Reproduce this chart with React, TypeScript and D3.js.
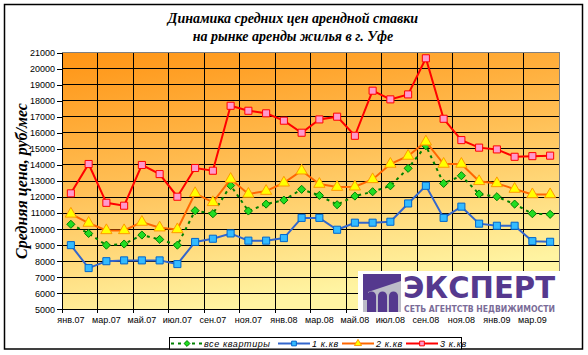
import React, { useEffect, useRef } from 'react';
import * as d3 from 'd3';

const months = ['янв', 'фев', 'мар', 'апр', 'май', 'июн', 'июл', 'авг', 'сен', 'окт', 'ноя', 'дек'];
const categories = [
  ...months.map(m => m + '.07'),
  ...months.map(m => m + '.08'),
  ...months.slice(0, 4).map(m => m + '.09'),
];

const allFlats = [10300, 9730, 9000, 9070, 9630, 9360, 9000, 11150, 10960, 12720, 11130, 11560, 11810, 12480,
  12100, 11520, 12060, 12330, 12700, 13790, 15200, 12850, 13330, 12190, 12020, 11560, 10960, 10920];
const oneRoom = [9000, 7570, 8000, 8050, 8050, 8050, 7820, 9200, 9400, 9730, 9280, 9280, 9440, 10700,
  10700, 9960, 10400, 10400, 10460, 11600, 12700, 10700, 11400, 10340, 10210, 10210, 9250, 9210];
const twoRoom = [10950, 10380, 9920, 9920, 10440, 10090, 9980, 12230, 11670, 13120, 12190, 12370, 12890, 13640,
  12810, 12620, 12640, 13100, 14060, 14560, 15450, 14060, 14060, 12980, 12850, 12500, 12160, 12160];
const threeRoom = [12230, 14060, 11640, 11460, 14000, 13430, 12020, 13810, 13640, 17690, 17380, 17220, 16760, 16010,
  16840, 17010, 15820, 18630, 18090, 18400, 20650, 16880, 15550, 15080, 14970, 14510, 14550, 14580];

const yTicks = d3.range(5000, 21001, 1000);

const App = () => {
  const svgRef = useRef<SVGSVGElement>(null);

  useEffect(() => {
    const svg = d3.select(svgRef.current);
    svg.selectAll('*').remove();

    const left = 62, right = 559, top = 52.7, bottom = 309.3;

    const x = d3.scaleBand().domain(categories).range([left, right]);
    const y = d3.scaleLinear().domain([5000, 21000]).range([bottom, top]);
    const cx = (i: number) => x(categories[i])! + x.bandwidth() / 2;

    const defs = svg.append('defs');
    const grad = defs.append('linearGradient').attr('id', 'bg')
      .attr('x1', 0).attr('y1', 0).attr('x2', 0.3).attr('y2', 1);
    grad.append('stop').attr('offset', 0).attr('stop-color', '#ff9414');
    grad.append('stop').attr('offset', 0.5).attr('stop-color', '#ffbf55');
    grad.append('stop').attr('offset', 1).attr('stop-color', '#fff4a2');

    // chart frame
    svg.append('rect').attr('x', 4.5).attr('y', 4.5).attr('width', 578).attr('height', 344.5)
      .attr('fill', 'white').attr('stroke', 'black').attr('stroke-width', 1.5);

    // title
    const title = svg.append('text').attr('x', 293).attr('text-anchor', 'middle')
      .attr('font-family', '"Liberation Serif", serif').attr('font-size', 14)
      .attr('font-weight', 'bold').attr('font-style', 'italic');
    title.append('tspan').attr('x', 293).attr('y', 23).text('Динамика средних цен арендной ставки');
    title.append('tspan').attr('x', 293).attr('y', 41).text('на рынке аренды жилья в г. Уфе');

    // plot area
    svg.append('rect').attr('x', left).attr('y', top).attr('width', right - left).attr('height', bottom - top)
      .attr('fill', 'url(#bg)');

    const grid = svg.append('g').attr('stroke', 'black').attr('stroke-width', 1).attr('shape-rendering', 'crispEdges');
    yTicks.filter(t => t > 5000 && t < 21000).forEach(t => {
      grid.append('line').attr('x1', left).attr('x2', right).attr('y1', y(t)).attr('y2', y(t));
    });
    categories.forEach((c, i) => {
      if (i > 0 && i % 2 === 0) {
        grid.append('line').attr('x1', x(c)!).attr('x2', x(c)!).attr('y1', top).attr('y2', bottom);
      }
    });
    // plot border (top/right)
    svg.append('path').attr('d', `M${left},${top}H${right}V${bottom}`).attr('fill', 'none')
      .attr('stroke', '#808080').attr('stroke-width', 1).attr('shape-rendering', 'crispEdges');

    // axes
    const yAxis = svg.append('g').attr('transform', `translate(${left},0)`)
      .call(d3.axisLeft(y).tickValues(yTicks).tickFormat(d3.format('d')).tickSize(5).tickSizeOuter(0).tickPadding(2));
    yAxis.selectAll('text').attr('font-family', '"Liberation Sans", Arial, sans-serif').attr('font-size', 9).attr('fill', 'black');
    yAxis.selectAll('line,path').attr('stroke', 'black').attr('shape-rendering', 'crispEdges');

    const xAxis = svg.append('g').attr('transform', `translate(0,${bottom})`)
      .call(d3.axisBottom(x).tickValues(categories.filter((_, i) => i % 2 === 0)).tickSize(0).tickPadding(7).tickSizeOuter(0));
    xAxis.selectAll('text').attr('font-family', '"Liberation Sans", Arial, sans-serif').attr('font-size', 9).attr('fill', 'black');
    xAxis.selectAll('path').attr('stroke', 'black').attr('shape-rendering', 'crispEdges');
    categories.forEach((c, i) => {
      if (i % 2 === 0) {
        xAxis.append('line').attr('x1', x(c)!).attr('x2', x(c)!).attr('y1', 0).attr('y2', 4)
          .attr('stroke', 'black').attr('shape-rendering', 'crispEdges');
      }
    });

    // y title
    svg.append('text').attr('transform', 'translate(27,181) rotate(-90)').attr('text-anchor', 'middle')
      .attr('font-family', '"Liberation Serif", serif').attr('font-size', 16)
      .attr('font-weight', 'bold').attr('font-style', 'italic').text('Средняя цена, руб/мес');

    const line = d3.line<number>().x((_, i) => cx(i)).y(d => y(d));

    const diamond = d3.symbol().type(d3.symbolDiamond2).size(42);
    const square = d3.symbol().type(d3.symbolSquare).size(50);
    const triangle = d3.symbol().type(d3.symbolTriangle).size(55);

    const series = [
      { data: allFlats, color: '#008000', dash: '3,4', sym: diamond, fill: '#22dd22', mstroke: '#008000' },
      { data: oneRoom, color: '#3366cc', dash: null, sym: square, fill: '#33bbff', mstroke: '#0066cc' },
      { data: twoRoom, color: '#ff6600', dash: null, sym: triangle, fill: '#ffff00', mstroke: '#ff9900' },
      { data: threeRoom, color: '#ff0000', dash: null, sym: square, fill: '#ff99cc', mstroke: '#ff0000' },
    ];

    series.forEach(s => {
      svg.append('path').datum(s.data).attr('d', line).attr('fill', 'none')
        .attr('stroke', s.color).attr('stroke-width', 2).attr('stroke-dasharray', s.dash);
      svg.append('g').selectAll('path').data(s.data).enter().append('path')
        .attr('d', s.sym)
        .attr('transform', (d, i) => `translate(${cx(i)},${y(d)})`)
        .attr('fill', s.fill).attr('stroke', s.mstroke).attr('stroke-width', 1);
    });

    // logo
    const logo = svg.append('g');
    logo.append('rect').attr('x', 358).attr('y', 271).attr('width', 205).attr('height', 45).attr('fill', 'white');
    logo.append('rect').attr('x', 363).attr('y', 274).attr('width', 38).attr('height', 38).attr('fill', '#bcbcc8');
    logo.append('path').attr('d', 'M363,274H401V281L368,292V300H363Z').attr('fill', '#55398e');
    [367, 378, 389].forEach(ax => {
      logo.append('path')
        .attr('d', `M${ax},312V296A4.5,4.5 0 0 1 ${ax + 9},296V312Z`).attr('fill', '#55398e');
    });
    logo.append('text').attr('x', 403).attr('y', 298).attr('textLength', 152).attr('lengthAdjust', 'spacingAndGlyphs')
      .attr('font-family', '"DejaVu Sans", sans-serif').attr('font-weight', 'bold').attr('font-size', 31)
      .attr('fill', '#55398e').text('ЭКСПЕРТ');
    logo.append('text').attr('x', 404).attr('y', 312).attr('textLength', 151).attr('lengthAdjust', 'spacingAndGlyphs')
      .attr('font-family', '"DejaVu Sans", sans-serif').attr('font-weight', 'bold').attr('font-size', 8.5)
      .attr('fill', '#7a6c98').text('СЕТЬ АГЕНТСТВ НЕДВИЖИМОСТИ');

    // legend
    const lg = svg.append('g');
    lg.append('rect').attr('x', 169.5).attr('y', 337.5).attr('width', 292).attr('height', 11.5)
      .attr('fill', 'white').attr('stroke', 'black').attr('stroke-width', 1);
    const ly = 343.5;
    const items = [
      { s: series[0], x0: 171, x1: 203, tx: 204, label: 'все квартиры' },
      { s: series[1], x0: 278, x1: 310, tx: 312, label: '1 к.кв' },
      { s: series[2], x0: 342, x1: 374, tx: 376, label: '2 к.кв' },
      { s: series[3], x0: 406, x1: 438, tx: 440, label: '3 к.кв' },
    ];
    items.forEach(it => {
      lg.append('line').attr('x1', it.x0).attr('x2', it.x1).attr('y1', ly).attr('y2', ly)
        .attr('stroke', it.s.color).attr('stroke-width', 2).attr('stroke-dasharray', it.s.dash);
      lg.append('path').attr('d', it.s.sym.size(22)).attr('transform', `translate(${(it.x0 + it.x1) / 2},${ly})`)
        .attr('fill', it.s.fill).attr('stroke', it.s.mstroke).attr('stroke-width', 1);
      lg.append('text').attr('x', it.tx).attr('y', ly + 3).attr('font-family', '"Liberation Sans", Arial, sans-serif')
        .attr('font-size', 9).attr('font-style', 'italic').attr('letter-spacing', 0.6).text(it.label);
    });
  }, []);

  return (
    <svg ref={svgRef} width={588} height={355} style={{ position: 'absolute', left: 0, top: 0, background: 'white' }} />
  );
};

export default App;
